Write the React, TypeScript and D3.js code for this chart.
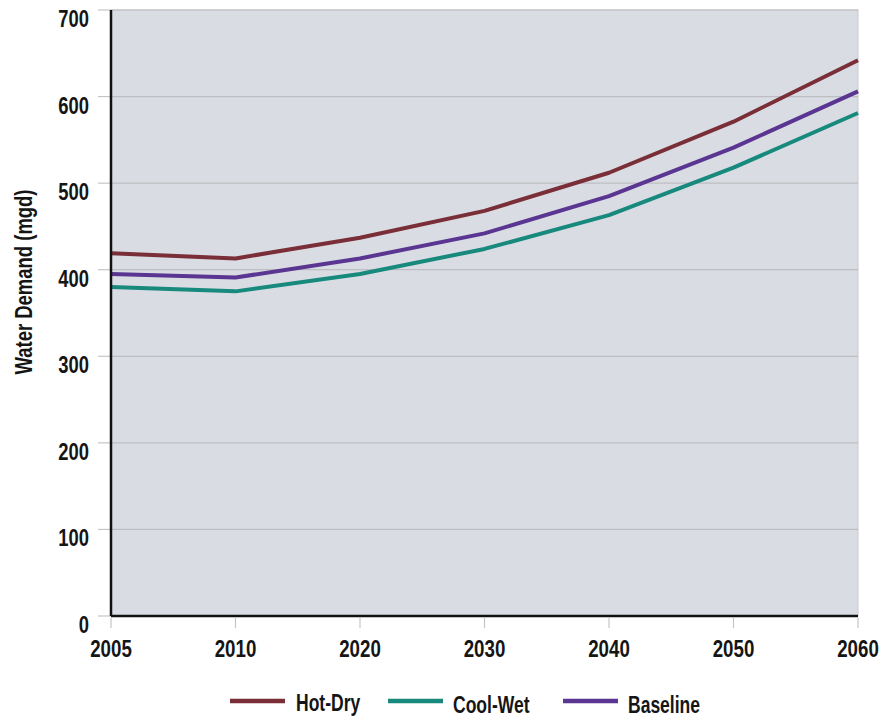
import * as d3 from 'd3'
import React, { FC, ReactNode } from 'react'

const years = ['2005', '2010', '2020', '2030', '2040', '2050', '2060']
const hotDry = [419, 413, 437, 468, 512, 571, 642]
const coolWet = [380, 375, 395, 424, 463, 518, 581]
const baseline = [395, 391, 413, 442, 485, 541, 606]
const yTicks = [0, 100, 200, 300, 400, 500, 600, 700]

const seriesList = [
  { name: 'Hot-Dry', values: hotDry, color: '#7a2e37' },
  { name: 'Cool-Wet', values: coolWet, color: '#18897d' },
  { name: 'Baseline', values: baseline, color: '#5a3592' },
]

const font = "'Liberation Sans', Arial, sans-serif"

// no narrow font installed, so squeeze Liberation Sans Bold sideways
function Narrow({
  x,
  y,
  size,
  squeeze,
  anchor = 'start',
  rotate = 0,
  children,
}: {
  x: number
  y: number
  size: number
  squeeze: number
  anchor?: 'start' | 'middle' | 'end'
  rotate?: number
  children: ReactNode
}) {
  return (
    <text
      transform={`translate(${x}, ${y}) rotate(${rotate}) scale(${squeeze}, 1)`}
      textAnchor={anchor}
      fontSize={size}
      fill='#151515'
    >
      {children}
    </text>
  )
}

const App: FC = () => {
  const width = 885
  const height = 719
  const margin = { top: 10, right: 27, bottom: 103, left: 111 }
  const innerW = width - margin.left - margin.right
  const innerH = height - margin.top - margin.bottom

  const scaleX = d3.scalePoint<string>().domain(years).range([0, innerW])
  const scaleY = d3.scaleLinear().domain([0, 700]).range([innerH, 0])

  const line = d3
    .line<number>()
    .x((_, i) => scaleX(years[i]) || 0)
    .y((d) => scaleY(d))

  // legend slots: swatch start, text start, text baseline
  const legendX = [230, 388, 563]
  const legendTextX = [296, 453, 628]
  const legendBase = [711, 713, 713]

  return (
    <svg
      width={width}
      height={height}
      style={{ position: 'absolute', top: 0, left: 0, background: '#fff' }}
      fontFamily={font}
      fontWeight='bold'
    >
      <g transform={`translate(${margin.left}, ${margin.top})`}>
        <rect x={0} y={0} width={innerW} height={innerH} fill='#d9dde3' stroke='#c6c8cc' strokeWidth={1} />
        {yTicks.map((t) => (
          <g key={`y-${t}`}>
            {t > 0 && <line x1={0} x2={innerW} y1={scaleY(t)} y2={scaleY(t)} stroke='#bdbec2' strokeWidth={1.2} />}
            <line x1={-13} x2={0} y1={scaleY(t)} y2={scaleY(t)} stroke='#c4c5c8' strokeWidth={1.2} />
            <Narrow x={-22} y={scaleY(t) + 17} size={23} squeeze={0.8} anchor='end'>
              {t}
            </Narrow>
          </g>
        ))}
        {years.map((y) => (
          <g key={`x-${y}`}>
            <line
              x1={scaleX(y)}
              x2={scaleX(y)}
              y1={innerH + 2}
              y2={innerH + 12}
              stroke='#c4c5c8'
              strokeWidth={1.2}
            />
            <Narrow x={scaleX(y) || 0} y={innerH + 41} size={24} squeeze={0.78} anchor='middle'>
              {y}
            </Narrow>
          </g>
        ))}
        {seriesList.map((s) => (
          <path key={s.name} d={line(s.values) || ''} fill='none' stroke={s.color} strokeWidth={4} strokeLinejoin='round' />
        ))}
        <line x1={0} x2={0} y1={0} y2={innerH} stroke='#111' strokeWidth={2.5} />
        <line x1={0} x2={innerW} y1={innerH} y2={innerH} stroke='#111' strokeWidth={2.5} />
      </g>
      <Narrow x={32} y={282} size={24} squeeze={0.77} anchor='middle' rotate={-90}>
        Water Demand (mgd)
      </Narrow>
      {seriesList.map((s, i) => (
        <g key={`legend-${s.name}`}>
          <line x1={legendX[i]} x2={legendX[i] + 55} y1={701} y2={701} stroke={s.color} strokeWidth={4.5} />
          <Narrow x={legendTextX[i]} y={legendBase[i]} size={24} squeeze={0.73}>
            {s.name}
          </Narrow>
        </g>
      ))}
    </svg>
  )
}

export default App
